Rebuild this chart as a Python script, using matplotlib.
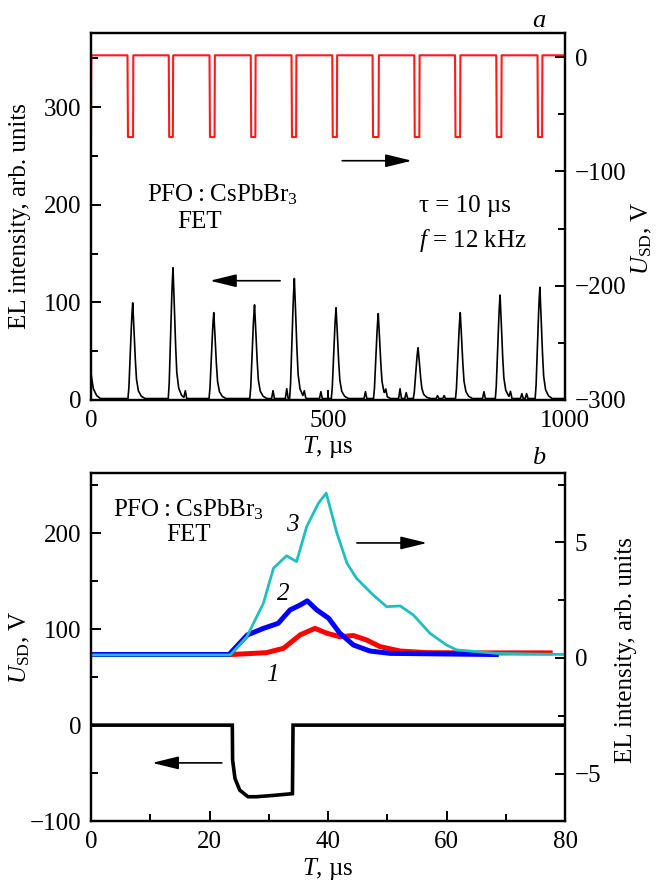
import numpy as np
import matplotlib
matplotlib.use("Agg")
import matplotlib.pyplot as plt
from matplotlib.ticker import FixedLocator

plt.rcParams['font.family'] = ['Liberation Serif', 'DejaVu Serif']
plt.rcParams['mathtext.fontset'] = 'custom'
plt.rcParams['mathtext.rm'] = 'Liberation Serif'
plt.rcParams['mathtext.it'] = 'Liberation Serif:italic'
plt.rcParams['font.size'] = 18

FS = 18

# ---------------- Panel a data ----------------
# EL intensity peaks (µs, arb. units)
peak_t = [88, 173, 259, 345, 429, 517, 606, 690, 779, 863, 947]
peak_h = [98, 134, 88, 96, 123, 93, 87, 52, 88, 106, 114]
# peak shape read from the first peak (offset µs, fraction of height)
prof_dt = [-10, -8, -5, -2, 0, 2, 5, 8, 12, 18, 26]
prof_f = [0, 0.12, 0.5, 0.85, 1.0, 0.8, 0.45, 0.2, 0.08, 0.025, 0]
# small side bumps
bump_t = [199, 384, 413, 450, 485, 579, 622, 652, 665, 731, 745, 829, 885, 909, 919]
bump_h = [8, 8, 10, 6, 7, 7, 6, 10, 6, 3, 3, 7, 6, 5, 5]
bump_dt = [-3, 0, 3]
bump_f = [0, 1, 0]
# decay at the start of the trace
init_t = [0, 1, 5, 12, 20]
init_v = [26, 22, 10, 3, 0]
el_base = 1.5

# Source-drain voltage pulses (µs, V)
pulse_start = [77, 164, 250, 337, 423, 509, 594, 682, 768, 855, 942]
pulse_end = [89, 173, 261, 347, 433, 519, 607, 693, 779, 866, 952]
u_high = 1.5
u_low = -70

# ---------------- Panel b data ----------------
t1 = [0, 23.5, 26.0, 29.6, 32.5, 35.3, 37.8, 39.8, 42.0, 44.3, 46.5, 48.8, 52.2, 56.7, 65, 77.5]
el1 = [0.15, 0.15, 0.18, 0.23, 0.42, 1.0, 1.28, 1.07, 0.92, 0.97, 0.78, 0.49, 0.30, 0.23, 0.22, 0.22]
t2 = [0, 23.3, 26.4, 29.1, 31.6, 33.6, 35.3, 36.5, 38.1, 40.1, 42.0, 44.3, 47.1, 50.5, 68.4]
el2 = [0.15, 0.15, 1.0, 1.28, 1.50, 2.08, 2.29, 2.47, 2.08, 1.72, 1.07, 0.56, 0.30, 0.2, 0.15]
t3 = [0, 23.5, 26.3, 29.1, 30.8, 33.0, 34.7, 36.4, 38.4, 39.7, 41.5, 43.2, 44.8, 47.6, 49.9,
      52.2, 54.4, 57.2, 60.0, 61.7, 68.5, 80]
el3 = [0.13, 0.13, 0.92, 2.37, 3.88, 4.42, 4.17, 5.68, 6.70, 7.13, 5.40, 4.10, 3.45, 2.73, 2.22,
       2.25, 1.86, 1.07, 0.56, 0.35, 0.2, 0.15]
tu = [0, 23.85, 23.9, 24.3, 25.1, 26.5, 27.9, 30.8, 34.0, 34.1, 80]
uu = [0, 0, -36.5, -55.6, -67.8, -74.7, -74.7, -73.3, -71.5, 0, 0]

W, H = 659, 882
fig = plt.figure(figsize=(W / 100, H / 100), dpi=100)


def px_rect(x0, y0, x1, y1):
    return [x0 / W, 1 - y1 / H, (x1 - x0) / W, (y1 - y0) / H]


def style(ax):
    for s in ax.spines.values():
        s.set_linewidth(1.6)
    ax.tick_params(which='both', direction='in', width=1.4, labelsize=FS, pad=7)
    ax.tick_params(which='major', length=7)
    ax.tick_params(which='minor', length=5)


def arrow(ax, x0, x1, y):
    ax.annotate('', xy=(x1, y), xytext=(x0, y), xycoords='axes fraction',
                textcoords='axes fraction',
                arrowprops=dict(arrowstyle='-|>,head_length=0.9,head_width=0.22',
                                lw=1.2, color='k', shrinkA=0, shrinkB=0))


# ================= Panel a =================
ax = fig.add_axes(px_rect(91, 33, 565, 400))
ax2 = ax.twinx()

# EL trace
tt = np.arange(0, 1000.5, 0.5)
el = np.full_like(tt, el_base)
el += np.interp(tt, init_t, init_v, left=0, right=0)
for pt, ph in zip(peak_t, peak_h):
    el += ph * np.interp(tt - pt, prof_dt, prof_f, left=0, right=0)
for bt, bh in zip(bump_t, bump_h):
    el += bh * np.interp(tt - bt, bump_dt, bump_f, left=0, right=0)
ax.plot(tt, el, color='k', lw=1.2)

# voltage square wave
ut = [0, 0.5]
uv = [u_low, u_high]
for s, e in zip(pulse_start, pulse_end):
    ut += [s, s + 1.0, e - 0.3, e + 0.3]
    uv += [u_high, u_low, u_low, u_high]
ut += [1000]
uv += [u_high]
ax2.plot(ut, uv, color='#ff1a1a', lw=1.5)

ax.set_xlim(0, 1000)
ax.set_ylim(0, 376)
ax2.set_ylim(-300, 21)
ax.xaxis.set_major_locator(FixedLocator([0, 500, 1000]))
ax.yaxis.set_major_locator(FixedLocator([0, 100, 200, 300]))
ax.yaxis.set_minor_locator(FixedLocator([50, 150, 250, 350]))
ax2.yaxis.set_major_locator(FixedLocator([0, -100, -200, -300]))
ax2.yaxis.set_minor_locator(FixedLocator([-50, -150, -250]))
ax2.set_yticklabels(['0', '\u2212100', '\u2212200', '\u2212300'])
style(ax)
style(ax2)
ax.set_xlabel(r'$T$, µs', fontsize=FS, labelpad=2)
ax.set_ylabel('EL intensity, arb. units', fontsize=FS)
ax.yaxis.set_label_coords(-0.127, 0.5)
ax2.set_ylabel(r'$U_{\rm SD}$, V', fontsize=FS)
ax2.yaxis.set_label_coords(1.136, 0.44)

arrow(ax, 0.530, 0.677, 0.652)
arrow(ax, 0.399, 0.251, 0.325)

# ================= Panel b =================
bx = fig.add_axes(px_rect(91, 473, 565, 821))
bx2 = bx.twinx()
bx.plot(tu, uu, color='k', lw=2.6, solid_joinstyle='miter')
bx2.plot(t1, el1, color='#ff0000', lw=3.6)
bx2.plot(t2, el2, color='#0000ff', lw=3.6)
bx2.plot(t3, el3, color='#1fbfbf', lw=2.0)

bx.set_xlim(0, 80)
bx.set_ylim(-100, 263)
bx2.set_ylim(-7.05, 8.0)
bx.xaxis.set_major_locator(FixedLocator([0, 20, 40, 60, 80]))
bx.xaxis.set_minor_locator(FixedLocator([10, 30, 50, 70]))
bx.yaxis.set_major_locator(FixedLocator([-100, 0, 100, 200]))
bx.yaxis.set_minor_locator(FixedLocator([-50, 50, 150, 250]))
bx.set_yticklabels(['\u2212100', '0', '100', '200'])
bx2.yaxis.set_major_locator(FixedLocator([-5, 0, 5]))
bx2.yaxis.set_minor_locator(FixedLocator([-2.5, 2.5, 7.5]))
bx2.set_yticklabels(['\u22125', '0', '5'])
style(bx)
style(bx2)
bx.set_xlabel(r'$T$, µs', fontsize=FS, labelpad=2)
bx.set_ylabel(r'$U_{\rm SD}$, V', fontsize=FS)
bx.yaxis.set_label_coords(-0.125, 0.5)
bx2.set_ylabel('EL intensity, arb. units', fontsize=FS)
bx2.yaxis.set_label_coords(1.105, 0.49)

arrow(bx, 0.561, 0.709, 0.799)
arrow(bx, 0.276, 0.129, 0.167)

# ================= Texts =================
def ftext(x, y, s, size=FS, **kw):
    fig.text(x / W, 1 - y / H, s, ha='center', va='center', fontsize=size, **kw)


ftext(539, 21, 'a', size=19, style='italic')
ftext(539, 458, 'b', size=19, style='italic')
ftext(222, 195, 'PFO\u2009:\u2009CsPbBr$_3$')
ftext(200, 222, 'FET')
ftext(465, 206, '\u03c4 = 10 µs')
ftext(473, 240, r'$f$ = 12 kHz')
ftext(188, 510, 'PFO\u2009:\u2009CsPbBr$_3$')
ftext(189, 535, 'FET')
ftext(292, 525, '3', style='italic')
ftext(283, 594, '2', style='italic')
ftext(272, 675, '1', style='italic')

fig.savefig('out.png', dpi=100)
